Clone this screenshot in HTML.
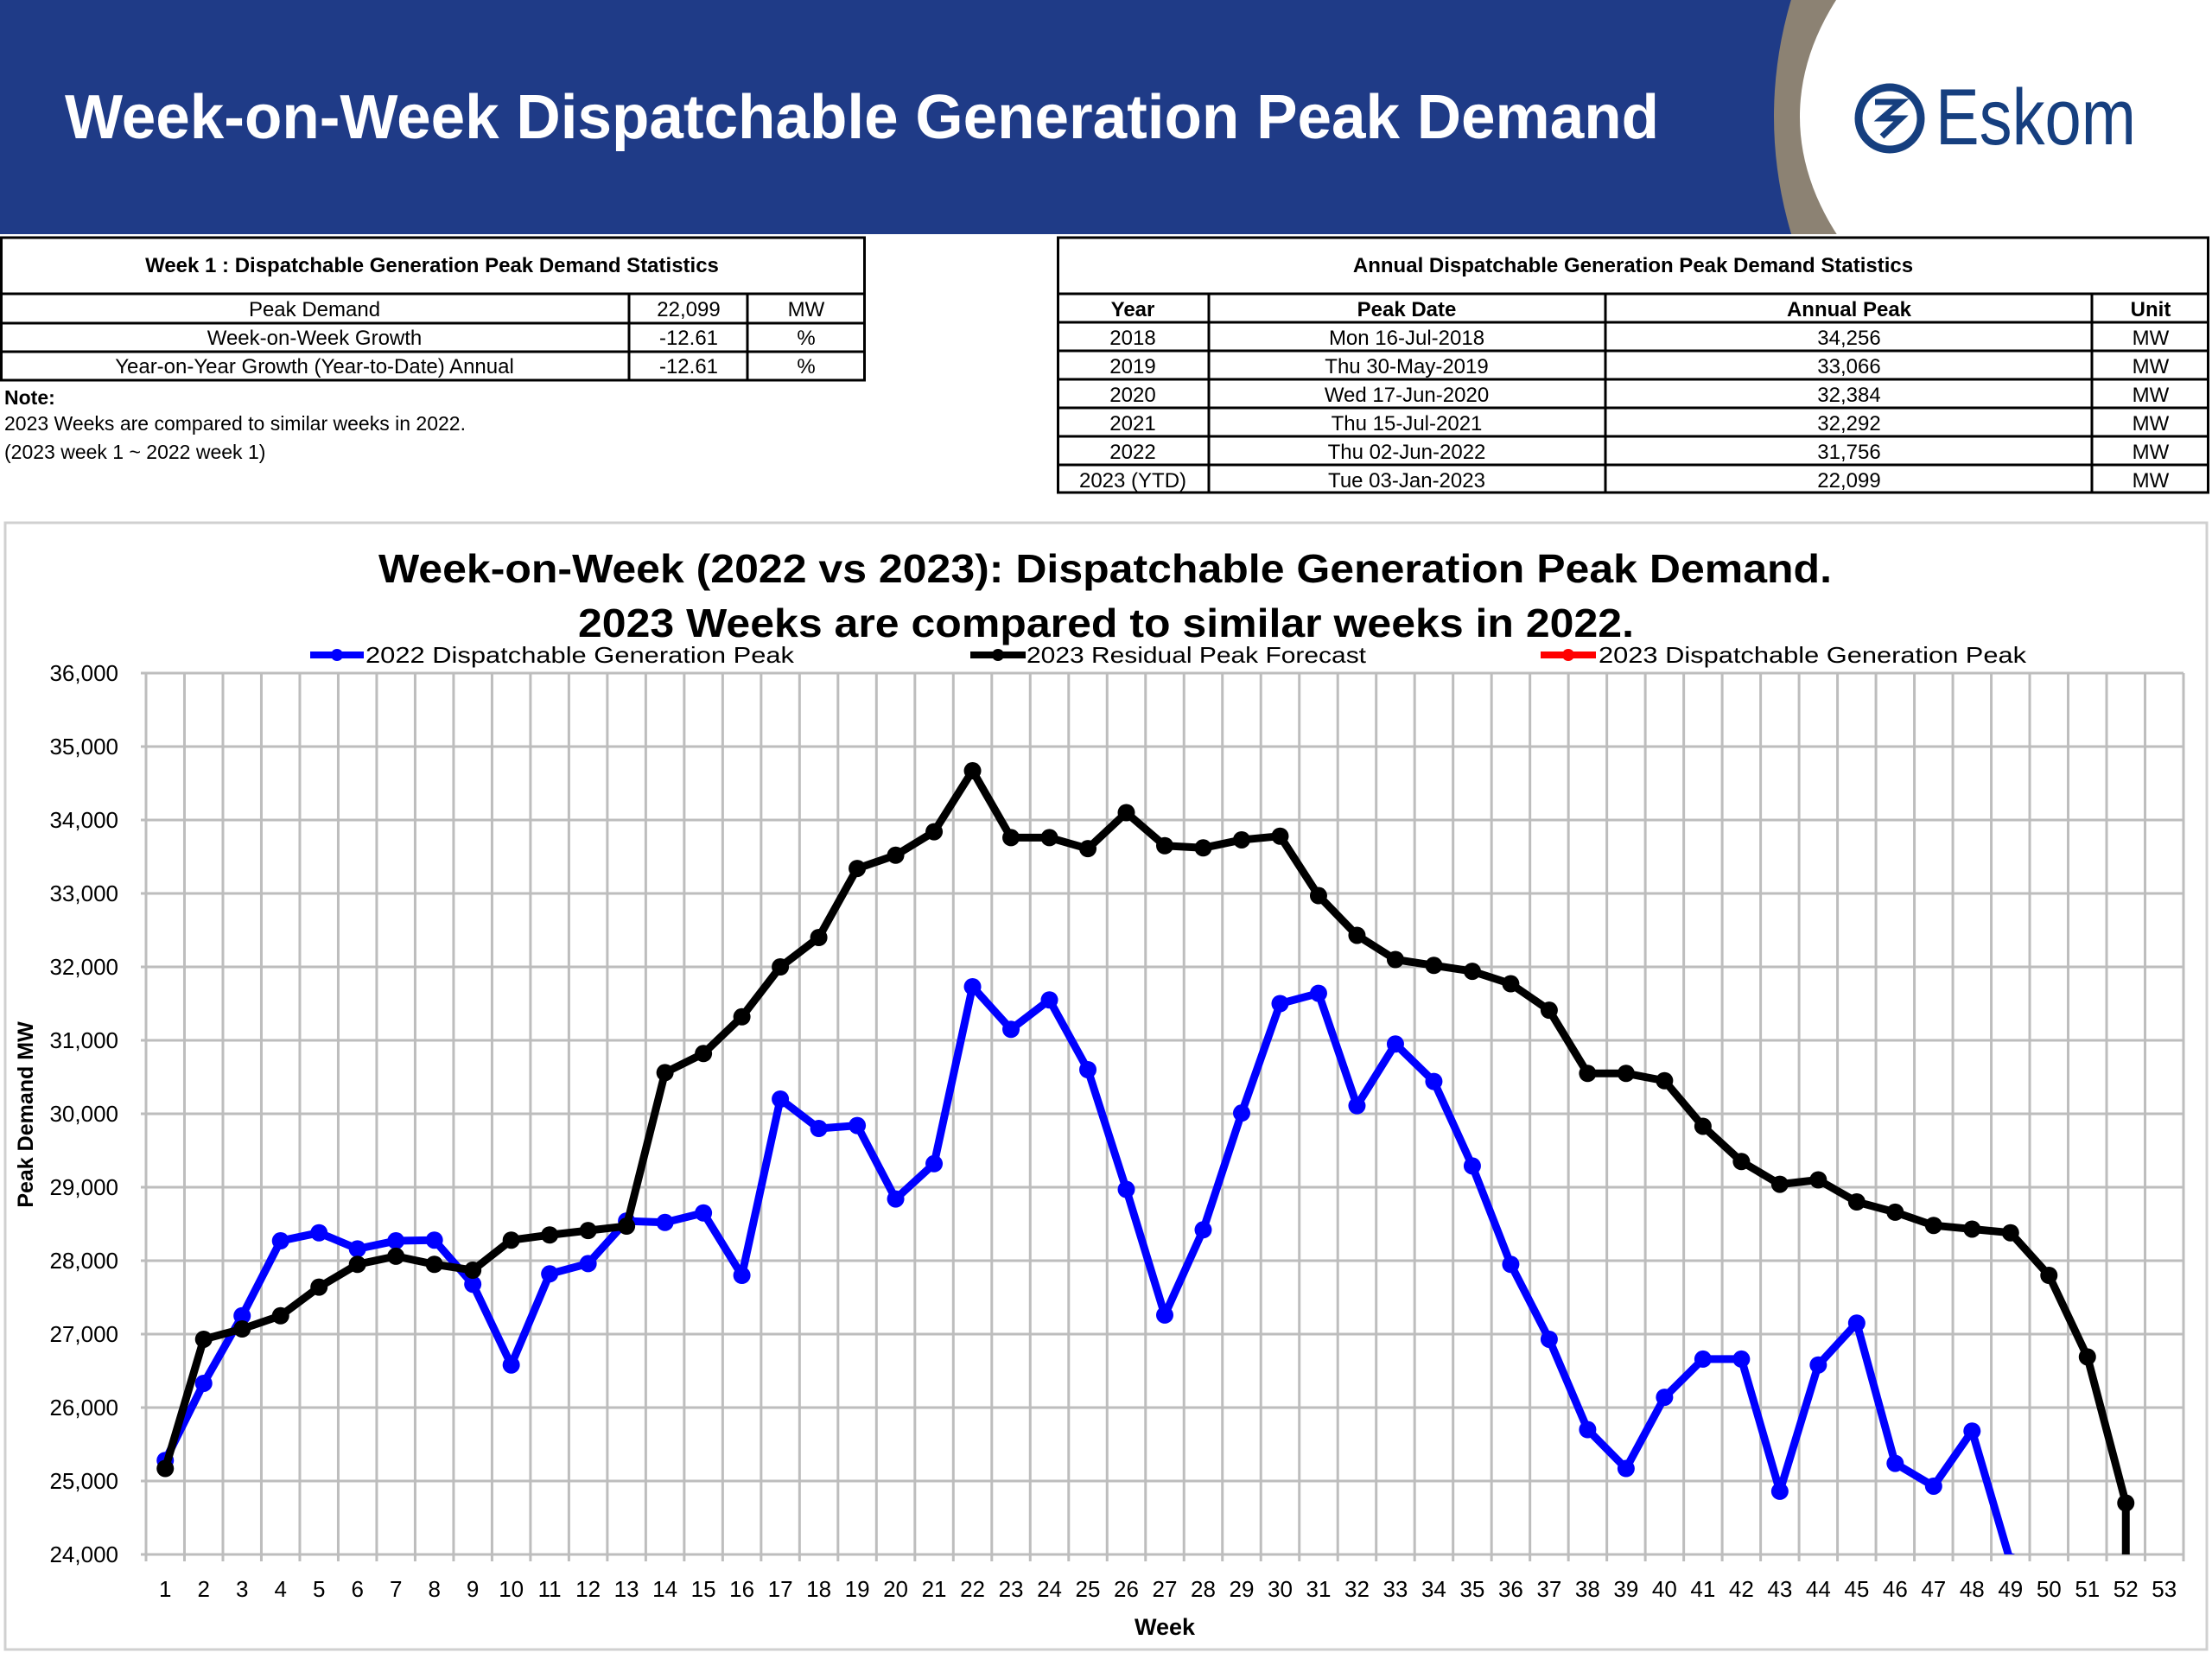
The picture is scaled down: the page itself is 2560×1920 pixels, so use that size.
<!DOCTYPE html>
<html><head><meta charset="utf-8"><style>
html,body{margin:0;padding:0;background:#fff;}
svg{display:block;font-family:"Liberation Sans",sans-serif;}
</style></head><body>
<svg id="page" width="2560" height="1920" viewBox="0 0 2560 1920" xmlns="http://www.w3.org/2000/svg">
<defs><clipPath id="hdrclip"><rect x="0" y="0" width="2560" height="271"/></clipPath></defs>
<g>
<g clip-path="url(#hdrclip)">
<rect x="0" y="0" width="2560" height="271" fill="#1f3b87"/>
<ellipse cx="2853" cy="135" rx="800" ry="610" fill="#8c8273"/>
<ellipse cx="2883" cy="135" rx="800" ry="422" fill="#ffffff"/>
</g>
<text x="75" y="160" font-size="72" font-weight="bold" fill="#fff" textLength="1845" lengthAdjust="spacingAndGlyphs">Week-on-Week Dispatchable Generation Peak Demand</text>
<g>
<circle cx="2187" cy="137" r="36" fill="none" stroke="#163f7f" stroke-width="9"/>
<path d="M2170 118 L2200 118 L2178 137 L2200 137 L2178 158" fill="none" stroke="#163f7f" stroke-width="7"/>
<text x="2240" y="167" font-size="92" fill="#163f7f" textLength="232" lengthAdjust="spacingAndGlyphs">Eskom</text>
</g>
</g>

<g font-size="24" fill="#000" stroke="none">
<rect x="1.5" y="275" width="999" height="165" fill="none" stroke="#000" stroke-width="3"/>
<line x1="0" y1="340" x2="1001" y2="340" stroke="#000" stroke-width="3"/>
<line x1="0" y1="374" x2="1001" y2="374" stroke="#000" stroke-width="3"/>
<line x1="0" y1="407" x2="1001" y2="407" stroke="#000" stroke-width="3"/>
<line x1="728" y1="340" x2="728" y2="441" stroke="#000" stroke-width="3"/>
<line x1="865" y1="340" x2="865" y2="441" stroke="#000" stroke-width="3"/>
<text x="500" y="315" text-anchor="middle" font-weight="bold">Week 1 : Dispatchable Generation Peak Demand Statistics</text>
<text x="364" y="366" text-anchor="middle">Peak Demand</text>
<text x="797" y="366" text-anchor="middle">22,099</text>
<text x="933" y="366" text-anchor="middle">MW</text>
<text x="364" y="399" text-anchor="middle">Week-on-Week Growth</text>
<text x="797" y="399" text-anchor="middle">-12.61</text>
<text x="933" y="399" text-anchor="middle">%</text>
<text x="364" y="432" text-anchor="middle">Year-on-Year Growth (Year-to-Date) Annual</text>
<text x="797" y="432" text-anchor="middle">-12.61</text>
<text x="933" y="432" text-anchor="middle">%</text>
</g>
<g font-size="23" fill="#000">
<text x="5" y="468" font-weight="bold">Note:</text>
<text x="5" y="498">2023 Weeks are compared to similar weeks in 2022.</text>
<text x="5" y="531">(2023 week 1 ~ 2022 week 1)</text>
</g>

<g font-size="24" fill="#000">
<rect x="1224.5" y="275" width="1331" height="295" fill="none" stroke="#000" stroke-width="3"/>
<g stroke="#000" stroke-width="3">
<line x1="1223" y1="340" x2="2557" y2="340"/>
<line x1="1223" y1="373" x2="2557" y2="373"/>
<line x1="1223" y1="406" x2="2557" y2="406"/>
<line x1="1223" y1="439" x2="2557" y2="439"/>
<line x1="1223" y1="472" x2="2557" y2="472"/>
<line x1="1223" y1="505" x2="2557" y2="505"/>
<line x1="1223" y1="538" x2="2557" y2="538"/>
<line x1="1399" y1="340" x2="1399" y2="571"/>
<line x1="1858" y1="340" x2="1858" y2="571"/>
<line x1="2421" y1="340" x2="2421" y2="571"/>
</g>
<text x="1890" y="315" text-anchor="middle" font-weight="bold">Annual Dispatchable Generation Peak Demand Statistics</text>
<g font-weight="bold" text-anchor="middle">
<text x="1311" y="366">Year</text><text x="1628" y="366">Peak Date</text><text x="2140" y="366">Annual Peak</text><text x="2489" y="366">Unit</text>
</g>
<g text-anchor="middle">
<text x="1311" y="399">2018</text><text x="1628" y="399">Mon 16-Jul-2018</text><text x="2140" y="399">34,256</text><text x="2489" y="399">MW</text>
<text x="1311" y="432">2019</text><text x="1628" y="432">Thu 30-May-2019</text><text x="2140" y="432">33,066</text><text x="2489" y="432">MW</text>
<text x="1311" y="465">2020</text><text x="1628" y="465">Wed 17-Jun-2020</text><text x="2140" y="465">32,384</text><text x="2489" y="465">MW</text>
<text x="1311" y="498">2021</text><text x="1628" y="498">Thu 15-Jul-2021</text><text x="2140" y="498">32,292</text><text x="2489" y="498">MW</text>
<text x="1311" y="531">2022</text><text x="1628" y="531">Thu 02-Jun-2022</text><text x="2140" y="531">31,756</text><text x="2489" y="531">MW</text>
<text x="1311" y="564">2023 (YTD)</text><text x="1628" y="564">Tue 03-Jan-2023</text><text x="2140" y="564">22,099</text><text x="2489" y="564">MW</text>
</g>
</g>

<g>
<rect x="6" y="605" width="2548" height="1304" fill="#fff" stroke="#d0d0d0" stroke-width="3"/>
<text x="1279" y="674" text-anchor="middle" font-size="46" font-weight="bold" textLength="1682" lengthAdjust="spacingAndGlyphs">Week-on-Week (2022 vs 2023): Dispatchable Generation Peak Demand.</text>
<text x="1280" y="737" text-anchor="middle" font-size="46" font-weight="bold" textLength="1222" lengthAdjust="spacingAndGlyphs">2023 Weeks are compared to similar weeks in 2022.</text>
<g font-size="26">
<g><line x1="359" y1="758" x2="421" y2="758" stroke="#0000ff" stroke-width="8"/><circle cx="390" cy="758" r="7" fill="#0000ff"/><text x="423" y="767" textLength="496" lengthAdjust="spacingAndGlyphs">2022 Dispatchable Generation Peak</text></g>
<g><line x1="1123" y1="758" x2="1187" y2="758" stroke="#000" stroke-width="8"/><circle cx="1155" cy="758" r="7" fill="#000"/><text x="1188" y="767" textLength="393" lengthAdjust="spacingAndGlyphs">2023 Residual Peak Forecast</text></g>
<g><line x1="1783" y1="758" x2="1847" y2="758" stroke="#ff0000" stroke-width="8"/><circle cx="1815" cy="758" r="7" fill="#ff0000"/><text x="1850" y="767" textLength="495" lengthAdjust="spacingAndGlyphs">2023 Dispatchable Generation Peak</text></g>
</g>
<g id="grid"></g>
<g id="yaxis" font-size="26"></g>
<g id="xaxis" font-size="26"></g>
<text x="1348" y="1892" text-anchor="middle" font-size="27" font-weight="bold">Week</text>
<text transform="translate(38,1290) rotate(-90)" text-anchor="middle" font-size="25" font-weight="bold">Peak Demand MW</text>
<defs><clipPath id="plotclip"><rect x="169" y="770" width="2360" height="1029"/></clipPath></defs>
<g id="series" clip-path="url(#plotclip)"></g>
</g>
</svg>
<script>
const weeks = Array.from({length:53},(_,i)=>i+1);
const yTicks = [24000,25000,26000,27000,28000,29000,30000,31000,32000,33000,34000,35000,36000];
const yTickLabels = ["24,000","25,000","26,000","27,000","28,000","29,000","30,000","31,000","32,000","33,000","34,000","35,000","36,000"];
const peak2022 = [25280,26330,27250,28270,28380,28160,28270,28280,27680,26580,27820,27960,28540,28520,28650,27800,30200,29800,29840,28840,29320,31730,31150,31550,30600,28970,27260,28420,30010,31500,31640,30110,30950,30440,29290,27950,26930,25700,25170,26140,26660,26660,24860,26580,27150,25240,24930,25680,23900];
const forecast2023 = [25170,26930,27070,27250,27640,27950,28060,27950,27870,28280,28350,28410,28470,30560,30820,31320,32000,32400,33340,33520,33840,34670,33760,33760,33610,34100,33650,33620,33730,33780,32970,32430,32100,32020,31940,31770,31410,30550,30550,30450,29830,29350,29040,29100,28800,28660,28480,28430,28380,27800,26690,24700];
const actual2023 = [];
const NS="http://www.w3.org/2000/svg";
const X0=169, X1=2527, Y0=1799, Y1=779, YMIN=24000, YMAX=36000;
function xs(w){return X0+(w-0.5)*(X1-X0)/53;}
function ys(v){return Y0-(v-YMIN)/(YMAX-YMIN)*(Y0-Y1);}
function mk(tag,attrs,parent){const e=document.createElementNS(NS,tag);for(const k in attrs)e.setAttribute(k,attrs[k]);parent.appendChild(e);return e;}
const grid=document.getElementById('grid'), ya=document.getElementById('yaxis'), xa=document.getElementById('xaxis'), ser=document.getElementById('series');
yTicks.forEach((t,i)=>{
  const l=mk('line',{x1:X0-6,x2:X1,y1:ys(t),y2:ys(t),stroke:'#bdbdbd','stroke-width':3},grid);
  
  
  const tx=mk('text',{x:137,y:ys(t)+9,'text-anchor':'end'},ya);
  
  
  tx.textContent=yTickLabels[i];
});
for(let w=0;w<=53;w++){
  const gx=xs(w+0.5);
  const l=mk('line',{x1:gx,x2:gx,y1:Y1,y2:Y0+8,stroke:'#bdbdbd','stroke-width':3},grid);
  
  
}
weeks.forEach(w=>{
  const tx=mk('text',{x:xs(w),y:1848,'text-anchor':'middle'},xa);
  
  
  tx.textContent=String(w);
});
function drawSeries(vals,color,name,dropEnd){
  const pts=vals.map((v,i)=>xs(weeks[i])+','+ys(v));
  if(dropEnd&&vals.length) pts.push(xs(weeks[vals.length-1])+','+(Y0+20));
  const pl=mk('polyline',{points:pts.join(' '),fill:'none',stroke:color,'stroke-width':9,'stroke-linejoin':'round'},ser);
  
  
  vals.forEach((v,i)=>{
    const c=mk('circle',{cx:xs(weeks[i]),cy:ys(v),r:10,fill:color},ser);
    
    
  });
}
drawSeries(peak2022,'#0000ff','series-2022');
drawSeries(forecast2023,'#000000','series-2023-forecast',true);
drawSeries(actual2023,'#ff0000','series-2023-actual');
</script>
</body></html>
